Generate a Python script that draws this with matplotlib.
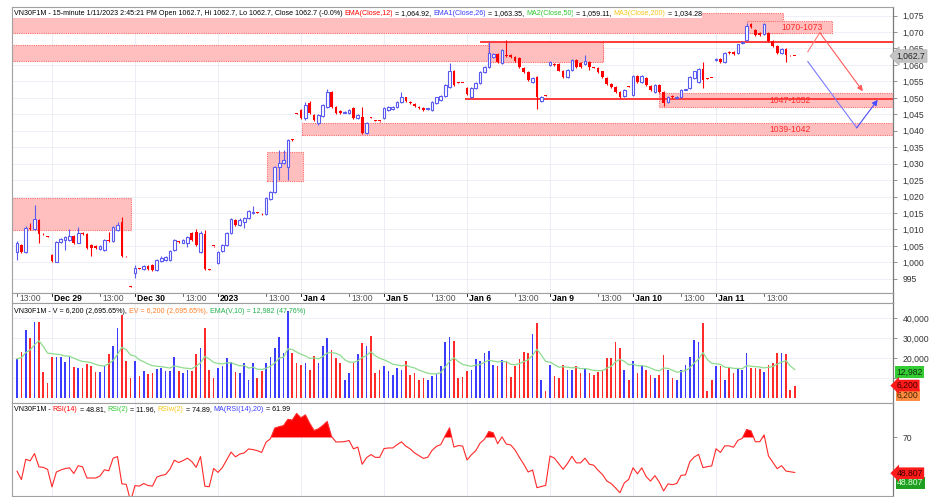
import matplotlib
matplotlib.use("Agg")
import matplotlib.pyplot as plt
import numpy as np
import pandas as pd
from matplotlib.patches import Rectangle

plt.rcParams["font.family"] = ["Liberation Sans", "DejaVu Sans"]

# 15-minute bars: Dec 28 afternoon (8 bars), then 19 bars per session
day_names = ["Dec 29", "Dec 30", "2023", "Jan 4", "Jan 5", "Jan 6", "Jan 9", "Jan 10", "Jan 11"]
first_day_bar = 8
bars_per_day = 19
bars_to_1300 = 11

opens = [
    1003.2, 1005.3, 1003.2, 1010.5, 1010.2, 1012.9, 1008.7, 1007.8,
    1002.3, 1000.2, 1006.3, 1006.9, 1006.9, 1008.1, 1006.0, 1009.0, 1008.7, 1005.3, 1005.0, 1004.1,
    1003.8, 1006.9, 1006.6, 1009.9, 1012.4, 1002.0, 992.6,
    996.8, 998.2, 998.0, 999.0, 999.3, 997.7, 1000.5, 1000.8, 1000.8, 1003.8,
    1006.4, 1006.0, 1006.0, 1009.0, 1009.3, 1003.2, 1008.7, 998.0, 1004.9,
    999.9, 1003.5, 1005.3, 1009.0, 1012.9, 1011.4, 1012.3, 1013.5, 1014.9, 1015.3,
    1014.8, 1014.6, 1019.3, 1021.5, 1029.1, 1030.3, 1029.1, 1037.3, 1045.3,
    1046.4, 1044.0, 1048.5, 1044.9, 1042.5, 1044.6, 1047.3, 1051.9, 1047.3, 1046.0,
    1045.5, 1045.5, 1047.0, 1044.0, 1044.3, 1039.4, 1044.1, 1043.2, 1043.0,
    1044.0, 1046.4, 1046.7, 1047.3, 1048.8, 1050.1, 1048.8, 1048.2, 1047.3, 1047.0,
    1046.6, 1046.4, 1048.5, 1049.4, 1050.7, 1053.4, 1058.3, 1054.7, 1054.5,
    1053.1, 1050.1, 1053.1, 1054.6, 1057.7, 1059.5, 1062.5, 1063.4, 1060.7, 1062.9,
    1063.1, 1062.5, 1062.2, 1059.2, 1057.7, 1054.9, 1056.4, 1049.1, 1050.7,
    1059.9, 1060.4, 1060.4, 1058.3, 1056.4, 1058.6, 1061.6, 1060.7, 1060.4, 1061.0,
    1059.2, 1059.2, 1058.0, 1056.1, 1054.3, 1053.4, 1051.9, 1050.7, 1053.4,
    1051.0, 1056.7, 1054.9, 1056.1, 1053.7, 1051.9, 1054.0, 1051.9, 1048.8, 1050.7,
    1049.8, 1050.1, 1052.4, 1053.1, 1056.1, 1054.9, 1058.9, 1055.8, 1056.0,
    1061.6, 1061.9, 1061.0, 1064.0, 1064.0, 1063.7, 1066.8, 1067.7, 1072.3, 1070.7,
    1069.8, 1069.5, 1069.8, 1067.4, 1065.6, 1063.7, 1064.7, 1063.0, 1062.7,
]
highs = [
    1006.5, 1005.6, 1011.0, 1012.0, 1017.5, 1013.2, 1008.9, 1007.9,
    1002.5, 1006.5, 1007.5, 1008.1, 1010.2, 1008.4, 1010.8, 1009.3, 1009.0, 1005.6, 1005.3, 1005.3,
    1007.2, 1009.3, 1011.1, 1012.4, 1013.8, 1002.1, 992.7,
    999.3, 998.3, 999.2, 999.3, 999.5, 1001.0, 1001.8, 1002.0, 1003.8, 1007.2,
    1006.6, 1007.2, 1008.1, 1009.3, 1010.0, 1009.6, 1009.9, 998.1, 1005.0,
    1003.5, 1005.6, 1009.3, 1013.5, 1013.2, 1013.5, 1013.8, 1015.9, 1017.2, 1015.4,
    1014.9, 1019.9, 1021.8, 1029.4, 1034.2, 1034.2, 1037.6, 1037.4, 1045.4,
    1046.7, 1048.8, 1049.1, 1045.2, 1045.2, 1048.2, 1052.8, 1052.2, 1047.6, 1046.3,
    1045.9, 1046.7, 1047.3, 1045.2, 1047.3, 1042.7, 1044.2, 1043.3, 1043.1,
    1047.3, 1047.6, 1047.6, 1049.1, 1051.9, 1050.4, 1049.1, 1048.5, 1047.6, 1047.3,
    1046.9, 1049.1, 1050.4, 1051.0, 1054.3, 1060.7, 1058.6, 1054.8, 1054.6,
    1053.4, 1053.4, 1054.9, 1058.0, 1059.8, 1067.1, 1063.7, 1063.7, 1064.7, 1067.7,
    1063.4, 1062.8, 1062.5, 1059.5, 1058.0, 1056.4, 1056.7, 1050.7, 1050.8,
    1061.1, 1060.7, 1060.7, 1058.6, 1058.9, 1061.9, 1061.9, 1061.0, 1063.1, 1061.3,
    1059.3, 1059.5, 1058.3, 1056.4, 1054.6, 1053.7, 1052.2, 1052.8, 1053.5,
    1057.0, 1057.0, 1057.0, 1056.4, 1054.0, 1054.3, 1054.3, 1052.2, 1050.7, 1051.0,
    1050.7, 1052.8, 1052.7, 1056.7, 1058.3, 1059.2, 1061.0, 1055.9, 1056.1,
    1062.2, 1062.2, 1064.0, 1064.3, 1064.3, 1066.5, 1067.4, 1072.6, 1072.6, 1071.0,
    1070.1, 1072.6, 1070.1, 1067.7, 1065.9, 1065.0, 1065.0, 1063.1, 1062.7,
]
lows = [
    1000.8, 1003.0, 1003.0, 1009.8, 1009.8, 1006.0, 1008.3, 1007.7,
    1000.2, 1000.0, 1006.0, 1003.8, 1006.5, 1005.7, 1005.8, 1008.3, 1004.1, 1002.0, 1004.1, 1003.8,
    1003.5, 1006.3, 1006.3, 1009.6, 1001.7, 1001.7, 992.5,
    995.3, 997.9, 997.8, 997.8, 997.4, 997.4, 1000.2, 1000.5, 1000.5, 1003.5,
    1006.0, 1005.8, 1004.7, 1006.6, 1005.0, 1002.9, 997.7, 997.7, 1004.8,
    999.6, 1003.2, 1005.0, 1008.7, 1011.1, 1011.1, 1010.5, 1013.2, 1014.6, 1015.0,
    1014.5, 1014.3, 1019.0, 1021.2, 1025.1, 1030.0, 1025.1, 1037.0, 1045.1,
    1043.7, 1043.4, 1045.2, 1043.1, 1041.8, 1044.3, 1047.0, 1047.0, 1045.2, 1045.2,
    1045.3, 1045.2, 1043.7, 1043.7, 1039.1, 1039.1, 1043.8, 1042.9, 1042.8,
    1043.7, 1046.1, 1046.4, 1047.0, 1048.5, 1048.8, 1048.2, 1047.3, 1046.7, 1046.1,
    1046.4, 1046.1, 1048.2, 1049.1, 1050.4, 1053.1, 1053.7, 1054.5, 1054.4,
    1051.0, 1049.8, 1052.8, 1054.3, 1057.4, 1059.2, 1062.2, 1060.7, 1060.4, 1062.5,
    1062.2, 1061.0, 1059.2, 1057.4, 1055.2, 1054.6, 1046.7, 1048.8, 1050.6,
    1059.6, 1059.8, 1058.0, 1056.1, 1056.1, 1058.3, 1059.2, 1059.2, 1060.1, 1058.6,
    1059.1, 1057.4, 1056.1, 1054.0, 1053.1, 1051.6, 1049.8, 1050.4, 1053.3,
    1050.7, 1054.6, 1054.6, 1053.7, 1052.2, 1051.6, 1051.6, 1047.6, 1048.5, 1049.8,
    1049.5, 1049.8, 1052.3, 1052.8, 1055.8, 1054.6, 1053.1, 1055.7, 1055.9,
    1061.3, 1060.7, 1060.7, 1063.4, 1063.1, 1063.4, 1066.5, 1067.4, 1071.1, 1068.9,
    1068.9, 1069.2, 1067.1, 1065.3, 1063.4, 1063.4, 1061.0, 1062.8, 1062.7,
]
closes = [
    1006.0, 1003.2, 1010.5, 1010.0, 1013.2, 1008.7, 1008.5, 1007.8,
    1000.5, 1006.3, 1007.2, 1007.8, 1008.1, 1006.0, 1009.0, 1008.6, 1004.4, 1004.4, 1004.4, 1005.0,
    1006.9, 1006.6, 1010.8, 1011.4, 1002.0, 1001.8, 992.6,
    998.3, 998.0, 999.0, 998.0, 997.7, 1000.8, 1001.4, 1001.7, 1003.5, 1006.9,
    1006.2, 1006.9, 1007.8, 1006.9, 1005.3, 1009.0, 998.0, 997.8, 1004.9,
    1003.2, 1005.3, 1009.0, 1013.2, 1011.4, 1012.9, 1013.5, 1015.6, 1015.4, 1015.1,
    1014.6, 1019.6, 1021.5, 1029.1, 1030.3, 1031.2, 1037.3, 1037.1, 1045.2,
    1044.0, 1047.9, 1045.5, 1043.4, 1044.9, 1047.9, 1051.9, 1047.3, 1045.5, 1045.5,
    1045.7, 1046.4, 1044.0, 1044.9, 1039.4, 1042.4, 1043.9, 1043.0, 1043.0,
    1047.0, 1047.3, 1047.3, 1048.8, 1050.1, 1049.1, 1048.5, 1047.6, 1047.0, 1046.4,
    1046.7, 1048.8, 1050.1, 1050.7, 1054.0, 1058.0, 1054.0, 1054.6, 1054.5,
    1051.3, 1053.1, 1054.6, 1057.7, 1059.5, 1063.7, 1063.4, 1061.0, 1064.4, 1062.7,
    1062.5, 1061.3, 1059.5, 1057.7, 1055.5, 1056.1, 1050.1, 1050.4, 1050.7,
    1060.8, 1060.1, 1058.3, 1056.4, 1058.6, 1061.6, 1059.5, 1059.5, 1061.3, 1059.5,
    1059.2, 1057.7, 1056.4, 1054.3, 1053.4, 1051.9, 1050.1, 1052.5, 1053.4,
    1056.7, 1054.9, 1056.7, 1054.0, 1052.5, 1054.0, 1051.9, 1048.5, 1050.4, 1050.1,
    1050.4, 1052.5, 1052.6, 1056.4, 1058.0, 1058.9, 1055.5, 1055.8, 1056.0,
    1061.9, 1061.0, 1063.7, 1063.7, 1063.4, 1066.2, 1067.1, 1071.7, 1071.4, 1069.2,
    1069.2, 1072.3, 1067.4, 1065.6, 1063.7, 1064.7, 1063.1, 1062.9, 1062.7,
]
volumes = [
    19600, 23200, 33900, 30200, 38200, 38200, 13000, 7400,
    20700, 20700, 20700, 17900, 20700, 15400, 14900, 14900, 17200, 15800, 13200, 13200,
    15800, 21900, 26300, 35100, 41800, 18400, 9800,
    18400, 10900, 13700, 11900, 12600, 14400, 14900, 13700, 13500, 20700,
    13700, 12600, 14000, 13700, 21900, 24900, 35100, 14000, 10200,
    14900, 15800, 20200, 17900, 13200, 12600, 17500, 8800, 17500, 9800,
    13700, 17500, 20700, 24900, 30700, 22800, 43500, 22800, 17500,
    16700, 17500, 14000, 21100, 17500, 26300, 30200, 24200, 20200, 17500,
    8800, 12600, 17500, 21900, 27700, 26300, 31200, 12300, 14000,
    15800, 13700, 11400, 14900, 14000, 18400, 11400, 12600, 9100, 9800,
    8800, 10900, 11900, 15800, 28100, 30700, 28400, 9800, 10500,
    13700, 14000, 19300, 18400, 22500, 23700, 16700, 16100, 18900, 18400,
    10500, 15800, 19600, 23200, 22800, 31900, 37700, 8800, 3500,
    16700, 10900, 9800, 16700, 14000, 14000, 15800, 12300, 14900, 12600,
    11400, 13200, 14000, 20200, 20200, 28100, 24900, 14000, 8800,
    18400, 12300, 16700, 14000, 11400, 9800, 11400, 21400, 14000, 9800,
    8800, 14000, 16700, 20700, 28900, 28100, 37700, 3500, 8800,
    15800, 15800, 8800, 14900, 12600, 14900, 14000, 22800, 14900, 14900,
    14400, 13200, 16700, 17500, 22500, 22500, 21900, 4000, 6200,
]

# hand-drawn support / resistance zones (bar index range, price range)
zone_start = [-1.2, 167.0, -1.2, 107.8, 147.0, 65.2, -1.2, 57.2]
zone_end = [175.3, 186.5, 134.1, 134.1, 201.0, 201.0, 26.1, 65.4]
zone_low = [1069.8, 1069.8, 1061.3, 1061.0, 1047.3, 1038.8, 1009.9, 1024.8]
zone_high = [1075.9, 1073.2, 1065.9, 1067.1, 1051.6, 1042.5, 1019.6, 1033.6]
zone_texts = ["1070-1073", "1047-1052", "1039-1042"]
zone_text_bar = [179.6, 176.9, 177.0]
zone_text_price = [1071.3, 1049.1, 1040.5]
level_start = [106.0, 102.5]
level_price = [1067.1, 1049.7]
red_path_bar = [181.0, 183.75, 193.6]
red_path_price = [1064.0, 1069.8, 1052.0]
blue_path_bar = [181.0, 192.2, 197.0]
blue_path_price = [1061.0, 1040.9, 1049.4]

last_price = 1062.7
last_volume = 6200
last_ema_volume = 12982
last_rsi = 48.807

price_header = [
    ("VN30F1M - 15-minute 1/11/2023 2:45:21 PM Open 1062.7, Hi 1062.7, Lo 1062.7, Close 1062.7 (-0.0%) ", "black"),
    ("EMA(Close,12)", "#ff0000"), (" = 1,064.92, ", "black"),
    ("EMA1(Close,26)", "#3c3cff"), (" = 1,063.35, ", "black"),
    ("MA2(Close,50)", "#2ec82e"), (" = 1,059.11, ", "black"),
    ("MA3(Close,200)", "#f5c518"), (" = 1,034.28", "black"),
]
volume_header = [
    ("VN30F1M - V = 6,200 (2,695.65%), ", "black"),
    ("EV = 6,200 (2,695.65%), ", "#ff7f27"),
    ("EMA(V,10) = 12,982 (47.76%)", "#22b14c"),
]
rsi_header = [
    ("VN30F1M - ", "black"), ("RSI(14)", "#ff0000"), (" = 48.81, ", "black"),
    ("RSI(2)", "#2ec82e"), (" = 11.96, ", "black"),
    ("RSIw(2)", "#f5c518"), (" = 74.89, ", "black"),
    ("MA(RSI(14),20)", "#3c3cff"), (" = 61.99", "black"),
]

FS = 6.2
HEAD_FS = 5.15
BLUE = "#5a5af0"
RED = "#ff0000"
PINK = "#ffbfbf"
GRID = "#eceef6"
FRAME = "#a0a0a0"
W, H = 933, 497

fig = plt.figure(figsize=(W / 100, H / 100), dpi=100)


def box(x0, y0, x1, y1):
    return [x0 / W, 1 - y1 / H, (x1 - x0) / W, (y1 - y0) / H]


ax_p = fig.add_axes(box(12, 7.3, 893, 292.7))
ax_d = fig.add_axes(box(12, 292.7, 893, 302.7))
ax_v = fig.add_axes(box(12, 302.7, 893, 402.7))
ax_r = fig.add_axes(box(12, 402.7, 893, 496))

n = len(closes)
x = np.arange(n)
o = np.array(opens)
c = np.array(closes)
h = np.array(highs)
lo = np.array(lows)
up = c > o
bar_colors = np.where(up, BLUE, RED)
day_starts = [first_day_bar + k * bars_per_day for k in range(len(day_names))]
noon_bars = [0] + [d + bars_to_1300 for d in day_starts]

for ax in (ax_p, ax_d, ax_v, ax_r):
    ax.set_xlim(-1.15, 200.5)
    ax.set_xticks([])
    for side in ("left", "top", "bottom"):
        ax.spines[side].set_color(FRAME)
        ax.spines[side].set_linewidth(0.8)
    ax.spines["right"].set_color("#7a7a7a")
    ax.spines["right"].set_linewidth(0.9)
    ax.yaxis.tick_right()
    ax.tick_params(axis="y", direction="out", length=3, width=0.6, color="#808080",
                   pad=4, labelsize=FS, labelcolor="#333333")
    if ax is not ax_d:
        for d in day_starts:
            ax.axvline(d, color=GRID, lw=0.7, zorder=0)

# price panel
ax_p.set_ylim(990.8, 1077.5)
price_ticks = np.arange(995, 1076, 5)
ax_p.set_yticks(price_ticks)
ax_p.set_yticklabels([f"{t:,}" for t in price_ticks])
for t in price_ticks:
    ax_p.axhline(t, color=GRID, lw=0.6, zorder=0)

for x0, x1, y0, y1 in zip(zone_start, zone_end, zone_low, zone_high):
    ax_p.add_patch(Rectangle((x0, y0), x1 - x0, y1 - y0, facecolor=PINK, edgecolor="#ff6a6a",
                             linestyle=(0, (1, 1)), lw=0.8, zorder=1))
for xs, p in zip(level_start, level_price):
    ax_p.plot([xs, 201], [p, p], color="#ff3b3b", lw=1.4, zorder=2, solid_capstyle="butt")
for txt, xb, p in zip(zone_texts, zone_text_bar, zone_text_price):
    ax_p.text(xb, p, txt, color="#ff2a2a", fontsize=FS, ha="center", va="center", zorder=6)

ax_p.plot(red_path_bar[:2], red_path_price[:2], color="#ff7a7a", lw=0.8, zorder=5)
ax_p.annotate("", xy=(red_path_bar[2], red_path_price[2]), xytext=(red_path_bar[1], red_path_price[1]),
              arrowprops=dict(arrowstyle="-|>", color="#ff5a5a", lw=0.8, mutation_scale=8,
                              shrinkA=0, shrinkB=0), zorder=5)
ax_p.plot(blue_path_bar[:2], blue_path_price[:2], color="#7a7aff", lw=0.8, zorder=5)
ax_p.annotate("", xy=(blue_path_bar[2], blue_path_price[2]), xytext=(blue_path_bar[1], blue_path_price[1]),
              arrowprops=dict(arrowstyle="-|>", color="#4a4aff", lw=0.8, mutation_scale=8,
                              shrinkA=0, shrinkB=0), zorder=5)

ax_p.vlines(x, lo, h, colors=bar_colors, lw=0.8, zorder=3)
body_low = np.minimum(o, c)
body_h = np.maximum(np.abs(c - o), 0.25)
ax_p.bar(x[up], body_h[up], bottom=body_low[up], width=0.62, facecolor="white",
         edgecolor=BLUE, lw=0.8, zorder=4)
ax_p.bar(x[~up], body_h[~up], bottom=body_low[~up], width=0.62, color=RED, lw=0, zorder=4)

ax_p.text(1.004, last_price, f"{last_price:,.1f}", transform=ax_p.get_yaxis_transform(),
          fontsize=FS, color="#222222", ha="left", va="center", zorder=10, clip_on=False,
          bbox=dict(boxstyle="larrow,pad=0.2", fc="#c4c4c4", ec="#b0b0b0", lw=0.5))

# date strip
ax_d.set_ylim(0, 1)
ax_d.set_yticks([])
for pos in noon_bars:
    ax_d.plot([pos, pos], [0.72, 1.0], color="#555555", lw=0.6)
    ax_d.text(pos + 0.5, 0.45, "13:00", fontsize=FS, color="#505050", ha="left", va="center")
for pos, name in zip(day_starts, day_names):
    ax_d.plot([pos, pos], [0.72, 1.0], color="#222222", lw=0.7)
    ax_d.text(pos + 0.5, 0.45, name, fontsize=FS, color="black", fontweight="bold",
              ha="left", va="center")

# volume panel
vol = np.array(volumes, dtype=float)
ema_vol = pd.Series(vol).ewm(span=10, adjust=False).mean()
ax_v.set_ylim(-2400, 47800)
vol_ticks = [10000, 20000, 30000, 40000]
ax_v.set_yticks(vol_ticks)
ax_v.set_yticklabels(["", "20,000", "30,000", "40,000"])
for t in vol_ticks:
    ax_v.axhline(t, color=GRID, lw=0.6, zorder=0)
ax_v.bar(x, vol, width=0.38, color=np.where(up, "#3c3cff", "#ff2a2a"), zorder=3)
ax_v.plot(x, ema_vol, color="#8fdc8f", lw=0.9, zorder=4)
ytr = ax_v.get_yaxis_transform()
ax_v.text(1.004, last_ema_volume, f"{last_ema_volume:,}", transform=ytr, fontsize=FS, color="#103010",
          ha="left", va="center", clip_on=False, zorder=10,
          bbox=dict(boxstyle="square,pad=0.15", fc="#33cc33", ec="none"))
ax_v.text(1.004, last_volume, f"{last_volume:,}", transform=ytr, fontsize=FS, color="#400000",
          ha="left", va="center", clip_on=False, zorder=11,
          bbox=dict(boxstyle="larrow,pad=0.15", fc="#ff1a1a", ec="none"))
ax_v.annotate(f"{last_volume:,}", xy=(1.004, last_volume), xycoords=ytr, xytext=(0.3, -7),
              textcoords="offset points", fontsize=FS, color="#402000", ha="left", va="center",
              annotation_clip=False, zorder=10,
              bbox=dict(boxstyle="square,pad=0.15", fc="#ff8c40", ec="none"))

# RSI panel
change = np.diff(c, prepend=c[0])
gain = np.clip(change, 0, None)
loss = np.clip(-change, 0, None)
g = l = np.abs(change).mean() / 2
rsi = np.empty(n)
for i in range(n):
    g = (g * 13 + gain[i]) / 14
    l = (l * 13 + loss[i]) / 14
    rsi[i] = 100 - 100 / (1 + g / l)
ax_r.set_ylim(35.3, 90.6)
ax_r.set_yticks([70])
ax_r.plot(x, rsi, color="#ff2a2a", lw=0.8, zorder=3)
ax_r.fill_between(x, rsi, 70, where=rsi > 70, interpolate=True, color="#ff0000", lw=0, zorder=2)
rtr = ax_r.get_yaxis_transform()
ax_r.text(1.004, last_rsi, f"{last_rsi:.3f}", transform=rtr, fontsize=FS, color="#400000",
          ha="left", va="center", clip_on=False, zorder=11,
          bbox=dict(boxstyle="larrow,pad=0.15", fc="#ff1a1a", ec="none"))
ax_r.annotate(f"{last_rsi:.3f}", xy=(1.004, last_rsi), xycoords=rtr, xytext=(0.3, -7),
              textcoords="offset points", fontsize=FS, color="#d8ffd8", ha="left", va="center",
              annotation_clip=False, zorder=10,
              bbox=dict(boxstyle="square,pad=0.15", fc="#1f9f1f", ec="none"))

# multi-coloured header lines
renderer = fig.canvas.get_renderer()


def header(x_px, y_px, parts, bg=None):
    xf = x_px / W
    for text, color in parts:
        kw = {}
        if bg:
            kw["bbox"] = dict(fc=bg, ec="none", pad=0.6)
        t = fig.text(xf, 1 - y_px / H, text, color=color, fontsize=HEAD_FS, ha="left",
                     va="baseline", zorder=20, **kw)
        xf = t.get_window_extent(renderer).x1 / W


header(14, 15.0, price_header, bg="white")
header(14, 313.0, volume_header)
header(14, 411.0, rsi_header)

fig.savefig("out.png", dpi=100)
